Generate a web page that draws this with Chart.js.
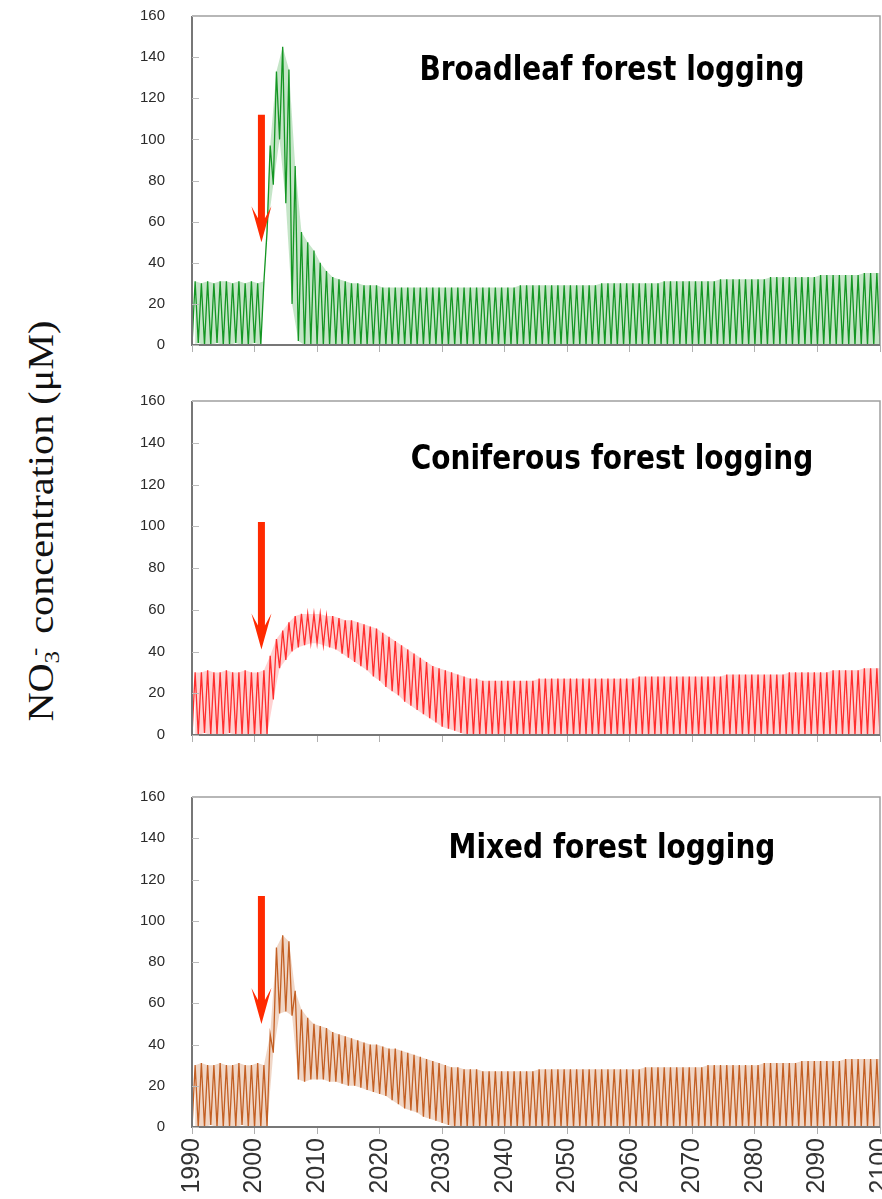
<!DOCTYPE html>
<html>
<head>
<meta charset="utf-8">
<title>NO3- concentration after logging</title>
<script src="https://cdn.jsdelivr.net/npm/chart.js@4.4.1/dist/chart.umd.min.js"></script>
<style>
    body { margin: 0; background: #fff; }
    #wrap { position: relative; width: 882px; height: 1199px; overflow: hidden; }
    #wrap canvas { position: absolute; left: 0; }
    #ylab {
        position: absolute; left: 44px; top: 521px;
        transform: translate(-50%, -50%) rotate(-90deg) scale(1.15, 1);
        font-family: "Liberation Serif", "Times New Roman", serif;
        font-size: 35px; white-space: nowrap; color: #111; line-height: 1;
    }
    #ylab sub { font-size: 62%; vertical-align: -0.3em; }
    #ylab sup { font-size: 62%; vertical-align: 0.55em; margin-left: -0.2em; margin-right: 0.15em; }
</style>
</head>
<body>
<div id="wrap">
    <div id="ylab">NO<sub>3</sub><sup>-</sup> concentration (μM)</div>
    <canvas id="broadleafChart" width="882" height="375" style="top:0px"></canvas>
    <canvas id="coniferousChart" width="882" height="380" style="top:385px"></canvas>
    <canvas id="mixedChart" width="882" height="418" style="top:781px"></canvas>
</div>
<script>
// one seasonal low (start of year) and one seasonal peak (mid year) per year, uM
var years = [
    1990, 1991, 1992, 1993, 1994, 1995, 1996, 1997, 1998, 1999,
    2000, 2001, 2002, 2003, 2004, 2005, 2006, 2007, 2008, 2009,
    2010, 2011, 2012, 2013, 2014, 2015, 2016, 2017, 2018, 2019,
    2020, 2021, 2022, 2023, 2024, 2025, 2026, 2027, 2028, 2029,
    2030, 2031, 2032, 2033, 2034, 2035, 2036, 2037, 2038, 2039,
    2040, 2041, 2042, 2043, 2044, 2045, 2046, 2047, 2048, 2049,
    2050, 2051, 2052, 2053, 2054, 2055, 2056, 2057, 2058, 2059,
    2060, 2061, 2062, 2063, 2064, 2065, 2066, 2067, 2068, 2069,
    2070, 2071, 2072, 2073, 2074, 2075, 2076, 2077, 2078, 2079,
    2080, 2081, 2082, 2083, 2084, 2085, 2086, 2087, 2088, 2089,
    2090, 2091, 2092, 2093, 2094, 2095, 2096, 2097, 2098, 2099,
    2100
];

var broadleafPeak = [
    31, 30, 31, 30, 31, 31, 30, 31, 30, 31,
    30, 31, 97, 133, 145, 134, 87, 55, 50, 46,
    40, 36, 33, 32, 31, 30, 30, 29, 29, 29,
    28, 28, 28, 28, 28, 28, 28, 28, 28, 28,
    28, 28, 28, 28, 28, 28, 28, 28, 28, 28,
    28, 28, 29, 29, 29, 29, 29, 29, 29, 29,
    29, 29, 29, 29, 29, 30, 30, 30, 30, 30,
    30, 30, 30, 30, 30, 31, 31, 31, 31, 31,
    31, 31, 31, 31, 32, 32, 32, 32, 32, 32,
    32, 32, 33, 33, 33, 33, 33, 33, 33, 33,
    34, 34, 34, 34, 34, 34, 34, 35, 35, 35,
    35
];
var broadleafLow = [
    0, 1, 0, 0, 1, 0, 0, 1, 0, 0,
    1, 0, 55, 78, 100, 69, 20, 2, 0, 0,
    0, 0, 0, 0, 0, 0, 0, 0, 0, 0,
    0, 0, 0, 0, 0, 0, 0, 0, 0, 0,
    0, 0, 0, 0, 0, 0, 0, 0, 0, 0,
    0, 0, 0, 0, 0, 0, 0, 0, 0, 0,
    0, 0, 0, 0, 0, 0, 0, 0, 0, 0,
    0, 0, 0, 0, 0, 0, 0, 0, 0, 0,
    0, 0, 0, 0, 0, 0, 0, 0, 0, 0,
    0, 0, 0, 0, 0, 0, 0, 0, 0, 0,
    0, 0, 0, 0, 0, 0, 0, 0, 0, 0,
    0
];

var coniferousPeak = [
    30, 30, 31, 30, 30, 31, 30, 30, 31, 30,
    30, 31, 38, 46, 50, 54, 57, 58, 58, 58,
    58, 57, 57, 56, 55, 55, 54, 53, 52, 51,
    49, 47, 45, 43, 41, 39, 37, 35, 33, 32,
    31, 30, 29, 28, 27, 27, 26, 26, 26, 26,
    26, 26, 26, 26, 26, 27, 27, 27, 27, 27,
    27, 27, 27, 27, 27, 27, 27, 27, 27, 27,
    27, 28, 28, 28, 28, 28, 28, 28, 28, 28,
    28, 28, 28, 28, 28, 29, 29, 29, 29, 29,
    29, 29, 29, 29, 29, 30, 30, 30, 30, 30,
    30, 30, 31, 31, 31, 31, 31, 32, 32, 32,
    32
];
var coniferousLow = [
    0, 0, 1, 0, 0, 0, 1, 0, 0, 0,
    0, 0, 0, 17, 32, 36, 40, 42, 43, 44,
    44, 43, 42, 41, 39, 37, 35, 33, 31, 28,
    26, 23, 21, 19, 16, 14, 12, 10, 8, 6,
    4, 3, 2, 1, 0, 0, 0, 0, 0, 0,
    0, 0, 0, 0, 0, 0, 0, 0, 0, 0,
    0, 0, 0, 0, 0, 0, 0, 0, 0, 0,
    0, 0, 0, 0, 0, 0, 0, 0, 0, 0,
    0, 0, 0, 0, 0, 0, 0, 0, 0, 0,
    0, 0, 0, 0, 0, 0, 0, 0, 0, 0,
    0, 0, 0, 0, 0, 0, 0, 0, 0, 0,
    0
];

var mixedPeak = [
    30, 31, 30, 30, 31, 30, 30, 31, 30, 30,
    31, 30, 45, 87, 93, 90, 66, 57, 53, 50,
    49, 48, 46, 45, 44, 43, 42, 41, 40, 40,
    39, 38, 38, 37, 36, 35, 34, 33, 32, 31,
    30, 29, 29, 28, 28, 28, 27, 27, 27, 27,
    27, 27, 27, 27, 27, 28, 28, 28, 28, 28,
    28, 28, 28, 28, 28, 28, 28, 28, 28, 28,
    28, 28, 29, 29, 29, 29, 29, 29, 29, 29,
    29, 29, 30, 30, 30, 30, 30, 30, 30, 30,
    30, 31, 31, 31, 31, 31, 31, 32, 32, 32,
    32, 32, 32, 32, 33, 33, 33, 33, 33, 33,
    33
];
var mixedLow = [
    0, 0, 0, 1, 0, 0, 0, 0, 1, 0,
    0, 0, 0, 36, 55, 56, 54, 23, 22, 23,
    23, 23, 22, 22, 21, 20, 20, 19, 18, 17,
    16, 15, 13, 11, 9, 8, 7, 5, 4, 3,
    2, 1, 0, 0, 0, 0, 0, 0, 0, 0,
    0, 0, 0, 0, 0, 0, 0, 0, 0, 0,
    0, 0, 0, 0, 0, 0, 0, 0, 0, 0,
    0, 0, 0, 0, 0, 0, 0, 0, 0, 0,
    0, 0, 0, 0, 0, 0, 0, 0, 0, 0,
    0, 0, 0, 0, 0, 0, 0, 0, 0, 0,
    0, 0, 0, 0, 0, 0, 0, 0, 0, 0,
    0
];

var yTicks = [0, 20, 40, 60, 80, 100, 120, 140, 160];
var xTicks = [1990, 2000, 2010, 2020, 2030, 2040, 2050, 2060, 2070, 2080, 2090, 2100];

// logging time marked by the red arrow: year, arrow top, arrow tip (uM)
var loggingArrows = {
    broadleaf: [2001.1, 112, 50],
    coniferous: [2001.1, 102, 41],
    mixed: [2001.1, 112, 50]
};

var panelDeco = {
    id: "panelDeco",
    afterDraw: function (chart, args, opts) {
        var ctx = chart.ctx;
        var a = chart.chartArea;
        var xs = chart.scales.x;
        var ys = chart.scales.y;
        ctx.save();
        // frame, left and bottom a bit darker
        ctx.lineWidth = 1.5;
        ctx.strokeStyle = "#a0a0a0";
        ctx.beginPath();
        ctx.moveTo(a.left, a.top);
        ctx.lineTo(a.right, a.top);
        ctx.lineTo(a.right, a.bottom);
        ctx.stroke();
        ctx.strokeStyle = "#777";
        ctx.lineWidth = 2;
        ctx.beginPath();
        ctx.moveTo(a.left, a.top);
        ctx.lineTo(a.left, a.bottom);
        ctx.lineTo(a.right, a.bottom);
        ctx.stroke();
        // inner y ticks
        ctx.strokeStyle = "#bbb";
        ctx.lineWidth = 1;
        yTicks.forEach(function (v) {
            var py = Math.round(ys.getPixelForValue(v)) + 0.5;
            ctx.beginPath();
            ctx.moveTo(a.left, py);
            ctx.lineTo(a.left + 7, py);
            ctx.stroke();
        });
        // title (slightly tall, like the source figure)
        ctx.save();
        ctx.translate(612, a.top + opts.titleOffset);
        ctx.scale(1, 1.22);
        ctx.fillStyle = "#000";
        ctx.font = "bold 28px 'DejaVu Sans', sans-serif";
        ctx.textAlign = "center";
        ctx.textBaseline = "middle";
        ctx.fillText(opts.title, 0, 0);
        ctx.restore();
        // arrow
        var arr = opts.arrow;
        var x = xs.getPixelForValue(arr[0]);
        var yTop = ys.getPixelForValue(arr[1]);
        var yTip = ys.getPixelForValue(arr[2]);
        ctx.fillStyle = "#ff2a00";
        ctx.beginPath();
        ctx.moveTo(x - 3.5, yTop);
        ctx.lineTo(x - 3.5, yTip - 24);
        ctx.lineTo(x - 10, yTip - 36);
        ctx.lineTo(x, yTip);
        ctx.lineTo(x + 10, yTip - 36);
        ctx.lineTo(x + 3.5, yTip - 24);
        ctx.lineTo(x + 3.5, yTop);
        ctx.closePath();
        ctx.fill();
        ctx.restore();
    }
};

function seasonalPoints(peaks, lows) {
    var pts = [];
    for (var i = 0; i < years.length; i++) {
        pts.push({ x: years[i], y: lows[i] });
        pts.push({ x: years[i] + 0.5, y: peaks[i] });
    }
    return pts;
}

function envelope(vals, shift) {
    return years.map(function (yr, i) { return { x: yr + shift, y: vals[i] }; });
}

function makePanel(id, label, peaks, lows, color, band, title, titleOffset, arrow, showYears, axisHeight) {
    return new Chart(document.getElementById(id), {
        type: "line",
        data: {
            datasets: [
                {
                    label: label,
                    data: seasonalPoints(peaks, lows),
                    borderColor: color,
                    borderWidth: 1.3,
                    pointRadius: 0,
                    tension: 0
                },
                {
                    label: label + " low",
                    data: envelope(lows, 0),
                    borderWidth: 0,
                    pointRadius: 0,
                    fill: false
                },
                {
                    label: label + " peak",
                    data: envelope(peaks, 0.5),
                    borderWidth: 0,
                    pointRadius: 0,
                    backgroundColor: band,
                    fill: 1
                }
            ]
        },
        options: {
            responsive: false,
            animation: false,
            layout: { padding: { top: 16, right: 2, left: 0, bottom: 0 } },
            plugins: {
                legend: { display: false },
                tooltip: { enabled: false },
                panelDeco: { title: title, titleOffset: titleOffset, arrow: arrow }
            },
            scales: {
                x: {
                    type: "linear",
                    min: 1990,
                    max: 2100,
                    afterBuildTicks: function (scale) {
                        scale.ticks = xTicks.map(function (v) { return { value: v }; });
                    },
                    afterFit: function (scale) {
                        scale.height = axisHeight;
                        scale.paddingLeft = 0;
                        scale.paddingRight = 0;
                    },
                    border: { display: false },
                    grid: { drawOnChartArea: false, drawTicks: true, tickLength: 7, color: "#b0b0b0" },
                    ticks: {
                        display: showYears,
                        autoSkip: false,
                        minRotation: 90,
                        maxRotation: 90,
                        padding: 4,
                        color: "#333",
                        font: { family: "'Liberation Sans', Arial, sans-serif", size: 25 },
                        callback: function (v) { return String(v); }
                    }
                },
                y: {
                    min: 0,
                    max: 160,
                    afterBuildTicks: function (scale) {
                        scale.ticks = yTicks.map(function (v) { return { value: v }; });
                    },
                    afterFit: function (scale) {
                        scale.width = 192;
                        scale.paddingTop = 0;
                        scale.paddingBottom = 0;
                    },
                    border: { display: false },
                    grid: { display: false },
                    ticks: {
                        padding: 19,
                        color: "#2a2a2a",
                        font: { family: "'Liberation Sans', Arial, sans-serif", size: 15 }
                    }
                }
            }
        },
        plugins: [panelDeco]
    });
}

makePanel("broadleafChart", "Broadleaf", broadleafPeak, broadleafLow,
    "rgb(20, 150, 35)", "rgba(60, 170, 70, 0.3)",
    "Broadleaf forest logging", 55, loggingArrows.broadleaf, false, 30);
makePanel("coniferousChart", "Coniferous", coniferousPeak, coniferousLow,
    "rgb(255, 45, 45)", "rgba(255, 90, 90, 0.28)",
    "Coniferous forest logging", 59, loggingArrows.coniferous, false, 30);
makePanel("mixedChart", "Mixed", mixedPeak, mixedLow,
    "rgb(195, 95, 35)", "rgba(205, 120, 65, 0.3)",
    "Mixed forest logging", 52, loggingArrows.mixed, true, 72);
</script>
</body>
</html>
